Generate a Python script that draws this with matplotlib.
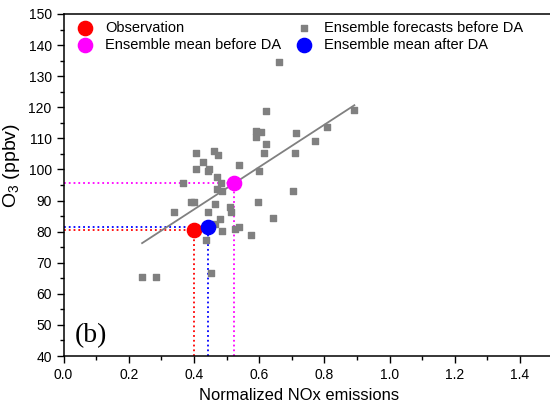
import matplotlib
matplotlib.use("Agg")
import matplotlib.pyplot as plt
import numpy as np

plt.rcParams['font.family'] = ['Liberation Sans', 'DejaVu Sans']
plt.rcParams['mathtext.default'] = 'regular'

# Membros do ensemble antes da assimilação
nox_ens = [0.241, 0.283, 0.340, 0.366, 0.391, 0.401, 0.406, 0.406, 0.428, 0.437,
           0.444, 0.443, 0.447, 0.453, 0.460, 0.465, 0.466, 0.470, 0.470, 0.474,
           0.480, 0.482, 0.485, 0.485, 0.511, 0.513, 0.527, 0.531, 0.537, 0.537,
           0.574, 0.590, 0.590, 0.596, 0.600, 0.605, 0.615, 0.621, 0.621, 0.642,
           0.662, 0.703, 0.709, 0.714, 0.771, 0.808, 0.892]
o3_ens = [65.3, 65.5, 86.4, 95.8, 89.6, 89.6, 105.4, 100.3, 102.4, 77.4,
          86.2, 99.6, 100.2, 66.6, 106.0, 88.9, 82.4, 97.7, 93.8, 104.7,
          84.0, 95.7, 93.2, 80.2, 88.0, 86.4, 80.9, 96.0, 81.4, 101.4,
          78.8, 112.4, 110.3, 89.4, 99.6, 112.0, 105.2, 108.2, 118.9, 84.5,
          134.5, 93.2, 105.2, 111.6, 109.3, 113.7, 119.1]

# Observação e médias
obs_x, obs_y = 0.40, 80.6
mean_before_x, mean_before_y = 0.522, 95.6
mean_after_x, mean_after_y = 0.443, 81.4

fig = plt.figure(figsize=(5.5, 4.03), dpi=100)
ax = fig.add_axes([0.1155, 0.1166, 0.8845, 0.8487])

# Regressão linear dos membros
coef = np.polyfit(nox_ens, o3_ens, 1)
xf = np.array([min(nox_ens), max(nox_ens)])
ax.plot(xf, np.polyval(coef, xf), color='#808080', lw=1.3, zorder=2)

h_ens = ax.scatter(nox_ens, o3_ens, marker='s', s=22, color='#808080', zorder=3)

# Linhas pontilhadas até os eixos
for px, py, c in [(obs_x, obs_y, 'red'), (mean_after_x, mean_after_y, 'blue'),
                  (mean_before_x, mean_before_y, 'magenta')]:
    ax.plot([0, px], [py, py], ls=':', color=c, lw=1.3, zorder=1)
    ax.plot([px, px], [40, py], ls=':', color=c, lw=1.3, zorder=1)

h_obs = ax.scatter([obs_x], [obs_y], s=105, color='red', zorder=4)
h_mb = ax.scatter([mean_before_x], [mean_before_y], s=105, color='magenta', zorder=4)
h_ma = ax.scatter([mean_after_x], [mean_after_y], s=105, color='blue', zorder=4)

ax.legend([h_obs, h_mb, h_ens, h_ma],
          ['Observation', 'Ensemble mean before DA', 'Ensemble forecasts before DA',
           'Ensemble mean after DA'],
          ncol=2, loc='upper left', frameon=False, fontsize=10.5,
          bbox_to_anchor=(0.002, 1.019), handlelength=1.0, handletextpad=0.87,
          columnspacing=1.07, labelspacing=0.25)

ax.text(0.035, 46.5, '(b)', fontsize=20, family='Liberation Serif', va='center')

ax.set_xlim(0, 1.492)
ax.set_ylim(40, 150)
ax.set_xticks(np.arange(0, 1.41, 0.2))
ax.set_xticks(np.arange(0, 1.5, 0.1), minor=True)
ax.set_yticks(np.arange(40, 151, 10))
ax.set_yticks(np.arange(40, 151, 5), minor=True)
ax.tick_params(direction='out', labelsize=10, length=5, width=1)
ax.tick_params(which='minor', direction='out', length=3, width=1)
ax.spines['right'].set_visible(False)
for s in ['left', 'bottom', 'top']:
    ax.spines[s].set_linewidth(1.1)

ax.set_xlabel('Normalized NOx emissions', fontsize=11.9)
ax.xaxis.set_label_coords(0.484, -0.094)
ax.set_ylabel('O$_3$ (ppbv)', fontsize=14)
ax.yaxis.set_label_coords(-0.085, 0.558)

plt.savefig('out.png', dpi=100)
